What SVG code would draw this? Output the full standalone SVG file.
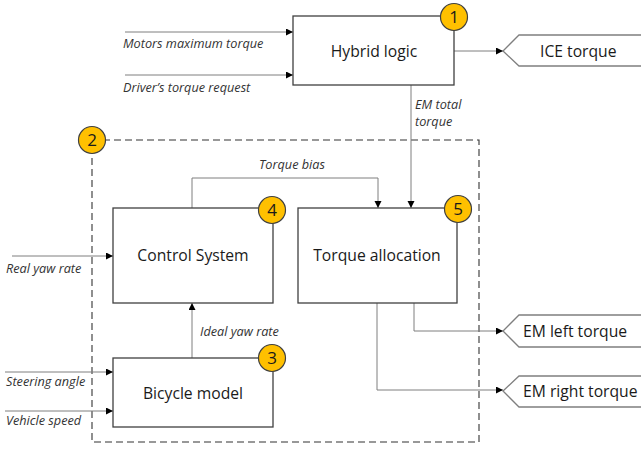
<svg xmlns="http://www.w3.org/2000/svg" width="641" height="452" viewBox="0 0 641 452">
<style>
.box{fill:#fff;stroke:#404040;stroke-width:1.3}
.badge{fill:#FFC000;stroke:#404040;stroke-width:1.2}
.bn{font-family:"Open Sans","Noto Sans",sans-serif;font-size:15.7px;fill:#1a1a1a;text-anchor:middle}
.num{font-family:"Open Sans","Noto Sans",sans-serif;font-size:17px;fill:#1a1a1a;text-anchor:middle}
.t{font-family:"Open Sans","Noto Sans",sans-serif;font-size:15.7px;fill:#1a1a1a}
.lbl{font-family:"Open Sans","Noto Sans",sans-serif;font-size:12.7px;font-style:italic;fill:#333}
.c{fill:none;stroke:#7f7f7f;stroke-width:1}
.out{fill:#fff;stroke:#7f7f7f;stroke-width:1.3}
</style>
<defs>
<marker id="ah" markerWidth="8" markerHeight="8" refX="7" refY="3.5" orient="auto" markerUnits="userSpaceOnUse">
<path d="M0,0 L7,3.5 L0,7 z" fill="#000"/>
</marker>
</defs>
<rect width="641" height="452" fill="#fff"/>
<g id="group2">
<rect x="92" y="140" width="387" height="302" fill="none" stroke="#333" stroke-width="1.1" stroke-dasharray="7,4"/>
</g>
<g id="connectors">
<line class="c" x1="125" y1="32" x2="293" y2="32" marker-end="url(#ah)"/>
<line class="c" x1="125" y1="75" x2="293" y2="75" marker-end="url(#ah)"/>
<line class="c" x1="454" y1="51" x2="503" y2="51" marker-end="url(#ah)"/>
<line class="c" x1="411" y1="85" x2="411" y2="208" marker-end="url(#ah)"/>
<polyline class="c" points="192,208 192,178 378,178 378,208" marker-end="url(#ah)"/>
<line class="c" x1="12" y1="256" x2="113" y2="256" marker-end="url(#ah)"/>
<line class="c" x1="192" y1="358" x2="192" y2="303" marker-end="url(#ah)"/>
<line class="c" x1="5" y1="372" x2="113" y2="372" marker-end="url(#ah)"/>
<line class="c" x1="5" y1="411" x2="113" y2="411" marker-end="url(#ah)"/>
<polyline class="c" points="414,303 414,331 503,331" marker-end="url(#ah)"/>
<polyline class="c" points="377,303 377,390 503,390" marker-end="url(#ah)"/>
<text class="lbl" x="123" y="48">Motors maximum torque</text>
<text class="lbl" x="123" y="92">Driver’s torque request</text>
<text class="lbl" x="415" y="109">EM total</text>
<text class="lbl" x="415" y="126">torque</text>
<text class="lbl" x="259" y="169">Torque bias</text>
<text class="lbl" x="6" y="273">Real yaw rate</text>
<text class="lbl" x="200" y="336">Ideal yaw rate</text>
<text class="lbl" x="6" y="386">Steering angle</text>
<text class="lbl" x="6" y="425">Vehicle speed</text>
</g>
<g id="hybrid">
<rect class="box" x="293" y="16" width="161" height="69"/>
<text class="bn" x="374" y="57">Hybrid logic</text>
<circle class="badge" cx="454" cy="17" r="13.5"/>
<text class="num" x="454" y="23">1</text>
</g>
<g id="badge2">
<circle class="badge" cx="92" cy="140" r="13.5"/>
<text class="num" x="92" y="146">2</text>
</g>
<g id="control">
<rect class="box" x="113" y="208" width="160" height="95"/>
<text class="bn" x="193" y="261">Control System</text>
<circle class="badge" cx="272" cy="210" r="13.5"/>
<text class="num" x="272" y="216">4</text>
</g>
<g id="alloc">
<rect class="box" x="298" y="208" width="159" height="95"/>
<text class="bn" x="377" y="261">Torque allocation</text>
<circle class="badge" cx="458" cy="209" r="13.5"/>
<text class="num" x="458" y="215">5</text>
</g>
<g id="bicycle">
<rect class="box" x="113" y="358" width="160" height="69"/>
<text class="bn" x="193" y="399">Bicycle model</text>
<circle class="badge" cx="272" cy="358" r="13.5"/>
<text class="num" x="272" y="364">3</text>
</g>
<g id="ice">
<polygon class="out" points="643,35 519,35 503,51 519,66 643,66"/>
<text class="t" x="540" y="57">ICE torque</text>
</g>
<g id="emleft">
<polygon class="out" points="643,315 519,315 503,331 519,347 643,347"/>
<text class="t" x="523" y="337">EM left torque</text>
</g>
<g id="emright">
<polygon class="out" points="643,376 519,376 503,391 519,407 643,407"/>
<text class="t" x="523" y="397">EM right torque</text>
</g>
</svg>
